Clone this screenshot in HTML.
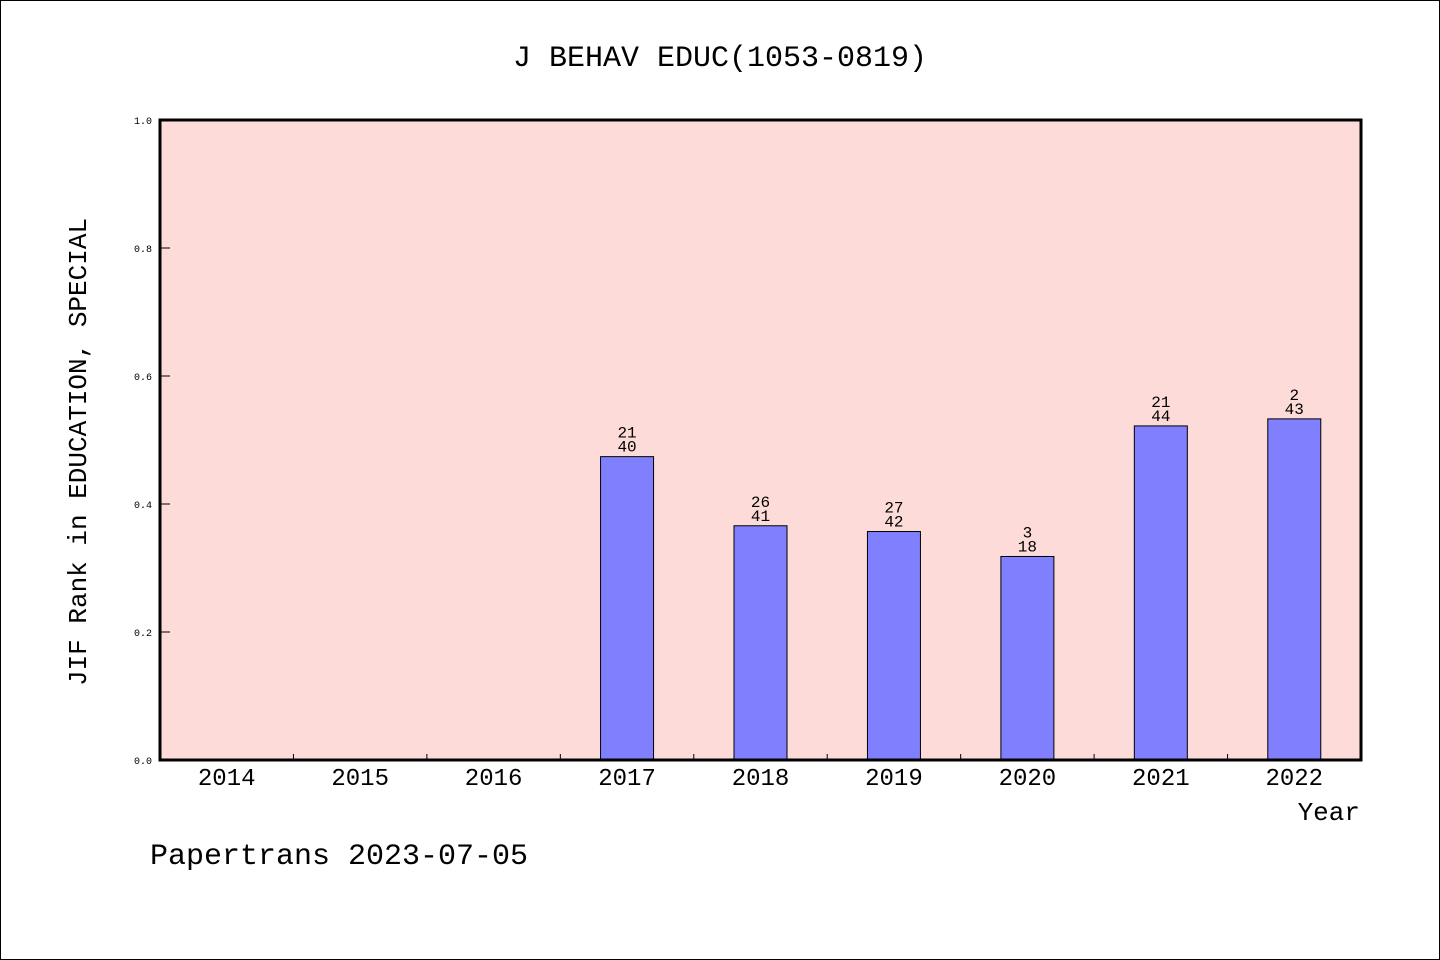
<!DOCTYPE html>
<html><head><meta charset="utf-8"><style>
html,body{margin:0;padding:0;background:#fff}
svg{display:block}
text{font-family:"WenQuanYi Zen Hei","Liberation Mono",monospace;fill:#000}
</style></head><body>
<svg id="chart" width="1440" height="960">
<rect x="0.5" y="0.5" width="1439" height="959" fill="#fff" stroke="#000"/>
<text x="720" y="66" font-size="30" text-anchor="middle">J BEHAV EDUC(1053-0819)</text>
<rect x="160" y="120" width="1201" height="640" fill="#fddbd8"/>
<g id="marks"></g>
<rect x="160" y="120" width="1201" height="640" fill="none" stroke="#000" stroke-width="3"/>
<text transform="translate(86,452) rotate(-90)" font-size="26" text-anchor="middle">JIF Rank in EDUCATION, SPECIAL</text>
<text x="1360" y="820" font-size="26" text-anchor="end">Year</text>
<text x="150" y="864" font-size="30">Papertrans 2023-07-05</text>
</svg>
<script>
const categories=["2014","2015","2016","2017","2018","2019","2020","2021","2022"];
const values=[null,null,null,0.474,0.366,0.357,0.318,0.522,0.533];
const ranks=[null,null,null,"21","26","27","3","21","2"];
const totals=[null,null,null,"40","41","42","18","44","43"];
const yTicks=[0,0.2,0.4,0.6,0.8,1.0];
const yTickLabels=["0.0","0.2","0.4","0.6","0.8","1.0"];
const X0=160,X1=1361,Y0=760,Y1=120;
const slot=(X1-X0)/categories.length;
const xs=i=>X0+slot*(i+0.5);
const ys=v=>Y0-(Y0-Y1)*v;
const ns="http://www.w3.org/2000/svg";
const g=document.getElementById('marks');
function mk(t,a){const e=document.createElementNS(ns,t);for(const k in a)e.setAttribute(k,a[k]);g.appendChild(e);return e;}
yTicks.forEach((v,i)=>{
  const l=mk('line',{x1:X0,x2:X0+10,y1:ys(v),y2:ys(v),stroke:'#000'});
  
  
  const t=mk('text',{x:X0-8,y:ys(v)+4,'font-size':10,'text-anchor':'end'});
  t.textContent=yTickLabels[i];
  
  
});
for(let i=1;i<categories.length;i++){
  const x=X0+slot*i;
  const l=mk('line',{x1:x,x2:x,y1:Y0,y2:Y0-6,stroke:'#000'});
  
  
}
categories.forEach((c,i)=>{
  const t=mk('text',{x:xs(i),y:785,'font-size':24,'text-anchor':'middle'});
  t.textContent=c;
  
  
  if(values[i]==null)return;
  const bw=53;
  const r=mk('rect',{x:xs(i)-bw/2,y:ys(values[i]),width:bw,height:Y0-ys(values[i]),fill:'#8080ff',stroke:'#000','stroke-width':1});
  
  
  const t1=mk('text',{x:xs(i),y:ys(values[i])-19,'font-size':16,'text-anchor':'middle'});
  t1.textContent=ranks[i];
  
  
  const t2=mk('text',{x:xs(i),y:ys(values[i])-5,'font-size':16,'text-anchor':'middle'});
  t2.textContent=totals[i];
  
  
});
</script>
</body></html>
